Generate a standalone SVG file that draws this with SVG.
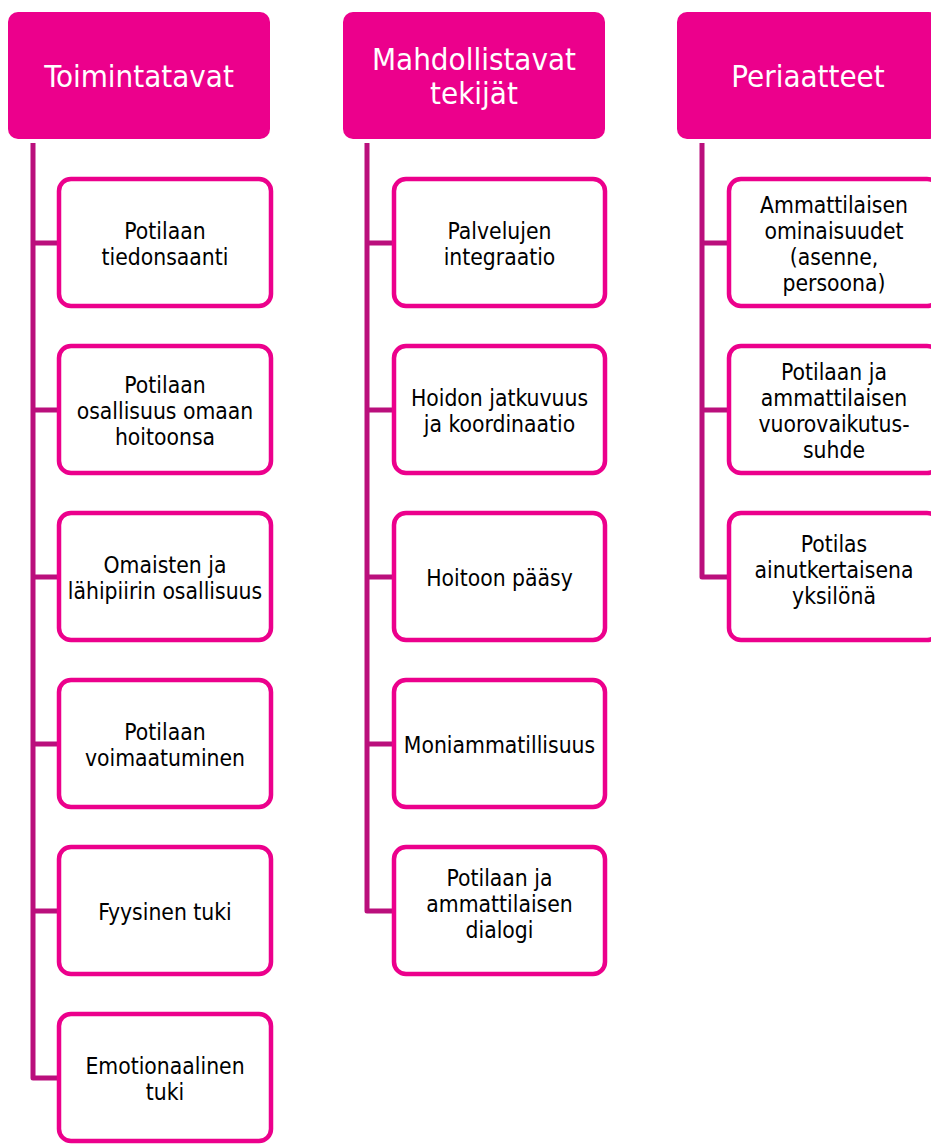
<svg xmlns="http://www.w3.org/2000/svg" width="931" height="1145" viewBox="0 0 931 1145">
<style>
.hdr{fill:#EC008C}
.hdr-t{fill:#fff;font-family:"DejaVu Sans Condensed","DejaVu Sans",sans-serif;font-size:31px;text-anchor:middle}
.box{fill:#fff;stroke:#EC008C;stroke-width:4.5}
.t{fill:#000;font-family:"DejaVu Sans Condensed","DejaVu Sans",sans-serif;font-size:22.7px;text-anchor:middle}
.ln{fill:none;stroke:#BA0F7C;stroke-width:5;stroke-linejoin:round}
</style>
<rect width="931" height="1145" fill="#fff"/>
<g id="connectors">
<path class="ln" d="M33 143 V1078 H57 M33 243 H57 M33 410 H57 M33 577 H57 M33 744 H57 M33 911 H57"/>
<path class="ln" d="M367 143 V911 H392 M367 243 H392 M367 410 H392 M367 577 H392 M367 744 H392"/>
<path class="ln" d="M702 143 V577 H727 M702 243 H727 M702 410 H727"/>
</g>
<g id="h1"><rect class="hdr" x="8" y="12" width="262" height="127" rx="10"/><text class="hdr-t" x="139" y="87">Toimintatavat</text></g>
<g id="h2"><rect class="hdr" x="343" y="12" width="262" height="127" rx="10"/><text class="hdr-t" x="474" y="70">Mahdollistavat</text><text class="hdr-t" x="474" y="104">tekijät</text></g>
<g id="h3"><rect class="hdr" x="677" y="12" width="262" height="127" rx="10"/><text class="hdr-t" x="808" y="87">Periaatteet</text></g>

<g id="a1"><rect class="box" x="59" y="179" width="212" height="127" rx="12"/><text class="t" x="165" y="239">Potilaan</text><text class="t" x="165" y="265">tiedonsaanti</text></g>
<g id="a2"><rect class="box" x="59" y="346" width="212" height="127" rx="12"/><text class="t" x="165" y="393">Potilaan</text><text class="t" x="165" y="419">osallisuus omaan</text><text class="t" x="165" y="445">hoitoonsa</text></g>
<g id="a3"><rect class="box" x="59" y="513" width="212" height="127" rx="12"/><text class="t" x="165" y="573">Omaisten ja</text><text class="t" x="165" y="599">lähipiirin osallisuus</text></g>
<g id="a4"><rect class="box" x="59" y="680" width="212" height="127" rx="12"/><text class="t" x="165" y="740">Potilaan</text><text class="t" x="165" y="766">voimaatuminen</text></g>
<g id="a5"><rect class="box" x="59" y="847" width="212" height="127" rx="12"/><text class="t" x="165" y="920">Fyysinen tuki</text></g>
<g id="a6"><rect class="box" x="59" y="1014" width="212" height="127" rx="12"/><text class="t" x="165" y="1074">Emotionaalinen</text><text class="t" x="165" y="1100">tuki</text></g>

<g id="b1"><rect class="box" x="394" y="179" width="211" height="127" rx="12"/><text class="t" x="499.5" y="239">Palvelujen</text><text class="t" x="499.5" y="265">integraatio</text></g>
<g id="b2"><rect class="box" x="394" y="346" width="211" height="127" rx="12"/><text class="t" x="499.5" y="406">Hoidon jatkuvuus</text><text class="t" x="499.5" y="432">ja koordinaatio</text></g>
<g id="b3"><rect class="box" x="394" y="513" width="211" height="127" rx="12"/><text class="t" x="499.5" y="586">Hoitoon pääsy</text></g>
<g id="b4"><rect class="box" x="394" y="680" width="211" height="127" rx="12"/><text class="t" x="499.5" y="753">Moniammatillisuus</text></g>
<g id="b5"><rect class="box" x="394" y="847" width="211" height="127" rx="12"/><text class="t" x="499.5" y="886">Potilaan ja</text><text class="t" x="499.5" y="912">ammattilaisen</text><text class="t" x="499.5" y="938">dialogi</text></g>

<g id="c1"><rect class="box" x="729" y="179" width="210" height="127" rx="12"/><text class="t" x="834" y="213">Ammattilaisen</text><text class="t" x="834" y="239">ominaisuudet</text><text class="t" x="834" y="265">(asenne,</text><text class="t" x="834" y="291">persoona)</text></g>
<g id="c2"><rect class="box" x="729" y="346" width="210" height="127" rx="12"/><text class="t" x="834" y="380">Potilaan ja</text><text class="t" x="834" y="406">ammattilaisen</text><text class="t" x="834" y="432">vuorovaikutus-</text><text class="t" x="834" y="458">suhde</text></g>
<g id="c3"><rect class="box" x="729" y="513" width="210" height="127" rx="12"/><text class="t" x="834" y="552">Potilas</text><text class="t" x="834" y="578">ainutkertaisena</text><text class="t" x="834" y="604">yksilönä</text></g>
</svg>
